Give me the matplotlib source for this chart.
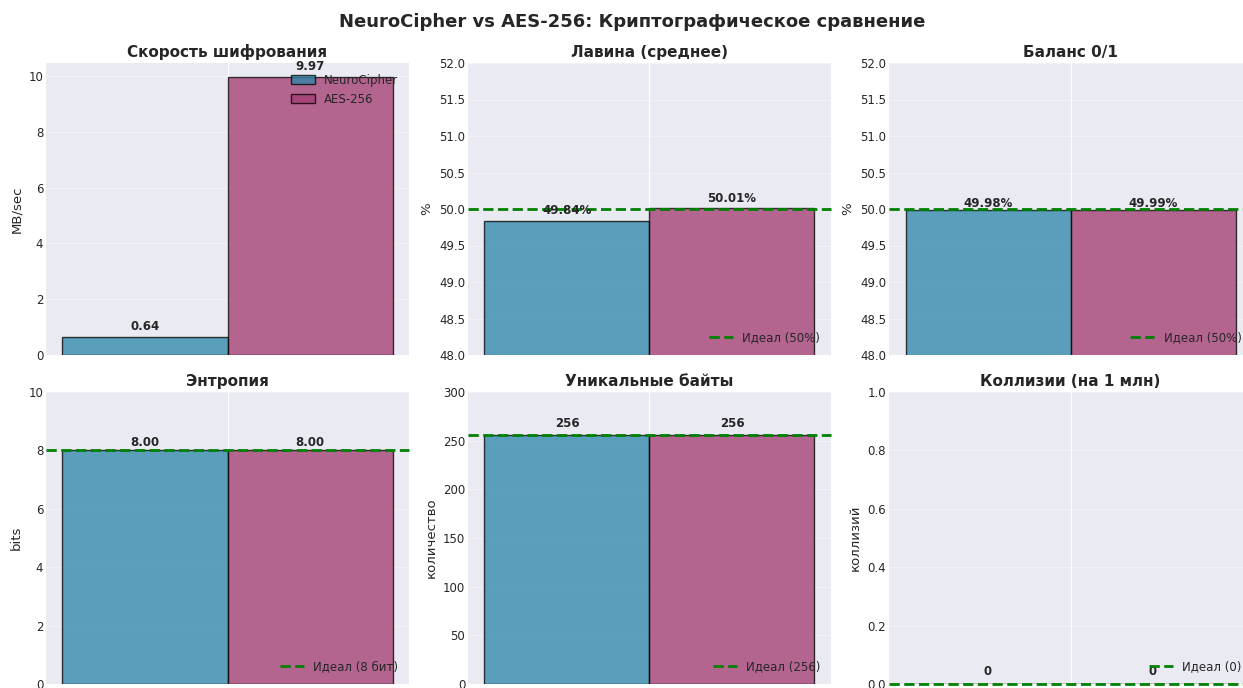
import numpy as np
import matplotlib
matplotlib.use("Agg")
import matplotlib.pyplot as plt

plt.style.use('seaborn-v0_8-darkgrid')
plt.rcParams['font.family'] = ['DejaVu Sans']

# данные
ciphers = ['NeuroCipher', 'AES-256']
colors = ['#2E86AB', '#A23B72']

speed = [0.64, 9.97]
avalanche = [49.84, 50.01]
balance = [49.98, 49.99]
entropy = [8.00, 8.00]
unique_bytes = [256, 256]
collisions = [0, 0]

titles = ['Скорость шифрования', 'Лавина (среднее)', 'Баланс 0/1',
          'Энтропия', 'Уникальные байты', 'Коллизии (на 1 млн)']
ylabels = ['MB/sec', '%', '%', 'bits', 'количество', 'коллизий']
ideals = [None, 50, 50, 8, 256, 0]
ideal_labels = [None, 'Идеал (50%)', 'Идеал (50%)', 'Идеал (8 бит)',
                'Идеал (256)', 'Идеал (0)']
ylims = [None, (48, 52), (48, 52), (0, 10), (0, 300), (0, 1)]
label_fmt = ['{:.2f}', '{:.2f}%', '{:.2f}%', '{:.2f}', '{:.0f}', '{:.0f}']
label_pad = [0.15, 0.05, 0.0, 0.05, 5, 0.02]
values = [speed, avalanche, balance, entropy, unique_bytes, collisions]

W, H = 1243, 688
fig = plt.figure(figsize=(W / 100, H / 100), dpi=100)

# позиции осей в пикселях (left, top)
lefts = [46, 468, 889]
tops = [63, 392]
aw, ah = 363, 292

width = 0.35
x = np.arange(1)
for i in range(6):
    r, c = divmod(i, 3)
    ax = fig.add_axes([lefts[c] / W, (H - tops[r] - ah) / H, aw / W, ah / H])
    vals = values[i]
    bars = []
    for j in range(2):
        b = ax.bar(x + (j - 0.5) * width, [vals[j]], width, color=colors[j],
                   alpha=0.76, edgecolor='black', linewidth=1, label=ciphers[j])
        bars.append(b[0])
    if ylims[i] is not None:
        ax.set_ylim(*ylims[i])
    for j, bar in enumerate(bars):
        ax.text(bar.get_x() + bar.get_width() / 2, vals[j] + label_pad[i],
                label_fmt[i].format(vals[j]), ha='center', va='bottom',
                fontsize=8.5, fontweight='bold', color='#262626')
    if ideals[i] is not None:
        line = ax.axhline(ideals[i], color='green', linestyle='--', linewidth=2,
                          label=ideal_labels[i], clip_on=False)
        ax.legend(handles=[line], loc='lower right', fontsize=8.5)
    else:
        ax.legend(loc='upper right', fontsize=8.5)
    ax.set_title(titles[i], fontsize=11, fontweight='bold', pad=4)
    ax.set_ylabel(ylabels[i], fontsize=9.5)
    ax.set_xticks(x)
    ax.set_xticklabels([''])
    ax.grid(axis='y', alpha=0.35)
    ax.tick_params(axis='y', labelsize=8.5, pad=2)

fig.text(632 / W, 1 - 22 / H, 'NeuroCipher vs AES-256: Криптографическое сравнение',
         ha='center', va='center', fontsize=13, fontweight='bold', color='#262626')

fig.savefig('out.png', dpi=100, facecolor='white')
